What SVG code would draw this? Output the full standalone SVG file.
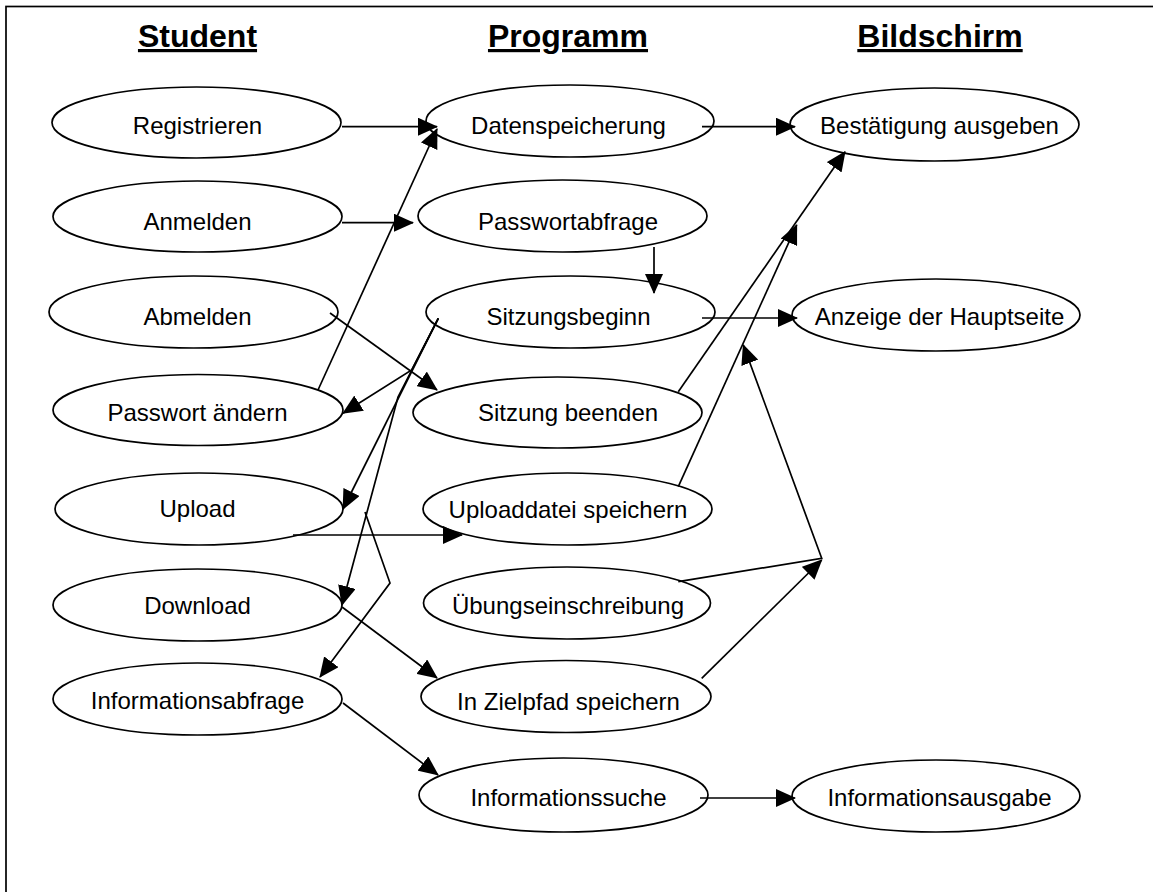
<svg xmlns="http://www.w3.org/2000/svg" width="1153" height="892" viewBox="0 0 1153 892">
<style>
.frame{fill:none;stroke:#000;stroke-width:1.7}
.node ellipse{fill:#fff;stroke:#000;stroke-width:1.7}
.node text{font-family:"Liberation Sans",Arial,sans-serif;font-size:24px;fill:#000;text-anchor:middle}
.head{font-family:"Liberation Sans",Arial,sans-serif;font-size:32px;font-weight:bold;fill:#000;text-anchor:middle;text-decoration:underline}
#connectors path{fill:none;stroke:#000;stroke-width:1.7;marker-end:url(#arr)}
</style>
<defs>
<marker id="arr" markerUnits="userSpaceOnUse" markerWidth="20" markerHeight="18" viewBox="0 0 20 18" refX="19" refY="9" orient="auto">
<path d="M0,0 L20,9 L0,18 Z" fill="#000"/>
</marker>
</defs>
<rect width="1153" height="892" fill="#fff"/>
<rect class="frame" x="6" y="6.5" width="1152" height="895"/>
<g id="headers">
<text class="head" x="197.5" y="47">Student</text>
<text class="head" x="568" y="47">Programm</text>
<text class="head" x="940" y="47">Bildschirm</text>
</g>
<g id="n-registrieren" class="node"><ellipse cx="196.5" cy="122.5" rx="144.5" ry="35.5"/><text x="197.5" y="134">Registrieren</text></g>
<g id="n-anmelden" class="node"><ellipse cx="197.5" cy="216.5" rx="144.5" ry="35.5"/><text x="197.5" y="230">Anmelden</text></g>
<g id="n-abmelden" class="node"><ellipse cx="193.5" cy="312" rx="144.5" ry="36"/><text x="197.5" y="325">Abmelden</text></g>
<g id="n-passwort-aendern" class="node"><ellipse cx="198" cy="410" rx="145" ry="35.5"/><text x="197.5" y="421">Passwort ändern</text></g>
<g id="n-upload" class="node"><ellipse cx="199" cy="509" rx="144" ry="36"/><text x="197.5" y="517">Upload</text></g>
<g id="n-download" class="node"><ellipse cx="197.5" cy="605" rx="144.5" ry="36"/><text x="197.5" y="613.5">Download</text></g>
<g id="n-informationsabfrage" class="node"><ellipse cx="197.5" cy="699" rx="144.5" ry="36"/><text x="197.5" y="709">Informationsabfrage</text></g>
<g id="n-datenspeicherung" class="node"><ellipse cx="570" cy="121" rx="144" ry="36"/><text x="568.5" y="133.5">Datenspeicherung</text></g>
<g id="n-passwortabfrage" class="node"><ellipse cx="562.5" cy="216" rx="144.5" ry="36"/><text x="568" y="229.5">Passwortabfrage</text></g>
<g id="n-sitzungsbeginn" class="node"><ellipse cx="570.5" cy="312" rx="144.5" ry="36"/><text x="568.5" y="325">Sitzungsbeginn</text></g>
<g id="n-sitzung-beenden" class="node"><ellipse cx="557.5" cy="412.5" rx="144.5" ry="35.5"/><text x="568" y="421">Sitzung beenden</text></g>
<g id="n-uploaddatei" class="node"><ellipse cx="567.5" cy="509" rx="144.5" ry="36"/><text x="568" y="518">Uploaddatei speichern</text></g>
<g id="n-uebung" class="node"><ellipse cx="567" cy="603" rx="143.5" ry="36"/><text x="568" y="613.5">Übungseinschreibung</text></g>
<g id="n-zielpfad" class="node"><ellipse cx="566" cy="696.5" rx="145" ry="36"/><text x="568.5" y="710">In Zielpfad speichern</text></g>
<g id="n-informationssuche" class="node"><ellipse cx="563.5" cy="795" rx="144.5" ry="37"/><text x="568.5" y="805.5">Informationssuche</text></g>
<g id="n-bestaetigung" class="node"><ellipse cx="934.5" cy="124.5" rx="144.5" ry="36.5"/><text x="939.5" y="133.5">Bestätigung ausgeben</text></g>
<g id="n-anzeige" class="node"><ellipse cx="936" cy="315" rx="144" ry="36"/><text x="939.5" y="325">Anzeige der Hauptseite</text></g>
<g id="n-informationsausgabe" class="node"><ellipse cx="936" cy="796" rx="144" ry="36"/><text x="939.5" y="805.5">Informationsausgabe</text></g>
<g id="connectors">
<path d="M342,126.7 L437,126.7"/>
<path d="M318,390 L437,129"/>
<path d="M342,222.7 L413,222.7"/>
<path d="M654,247 L654,293"/>
<path d="M330,313 L437,390"/>
<path d="M438.3,318.3 L411.7,370 L343,413.3"/>
<path d="M438.3,318.3 L343,509"/>
<path d="M438.3,318.3 L398,397 L342,605"/>
<path d="M365,512 L390,583 L320,677"/>
<path d="M293,535 L462,535"/>
<path d="M342,607 L437,678"/>
<path d="M343,703 L438,775"/>
<path d="M702,126.7 L795,126.7"/>
<path d="M678.3,391.7 L845,151.7"/>
<path d="M678.3,486.7 L796.7,225"/>
<path d="M702,318 L797,318"/>
<path d="M678.3,581.7 L821.7,558.3 L743.3,345"/>
<path d="M701.7,678.3 L821.7,560"/>
<path d="M700,798 L795,798"/>
</g>
</svg>
